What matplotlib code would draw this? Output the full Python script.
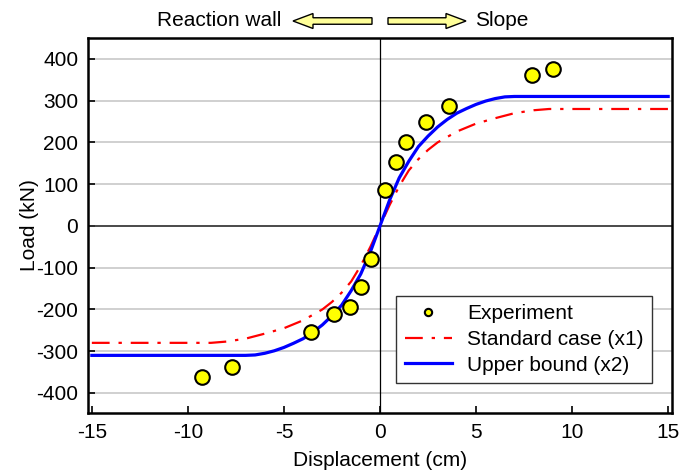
import matplotlib
matplotlib.use("Agg")
import matplotlib.pyplot as plt
from matplotlib.patches import FancyArrow

plt.rcParams["font.family"] = ["Liberation Sans", "DejaVu Sans"]
plt.rcParams["axes.unicode_minus"] = False

# Experiment points (cm, kN)
exp_x = [-9.24, -7.68, -3.58, -2.39, -1.56, -0.99, -0.47, 0.26, 0.81, 1.37, 2.42, 3.58, 7.89, 9.03]
exp_y = [-362, -338, -254, -211, -194, -146, -79, 86, 152, 200, 248, 287, 362, 375]

# Standard case (x1)
std_x = [-15, -8.8, -8, -7, -6, -5, -4, -3.5, -3, -2.5, -2, -1.5, -1, -0.5, 0,
         0.5, 1, 1.5, 2, 2.5, 3, 3.5, 4, 5, 6, 7, 8, 8.8, 15]
std_y = [-280, -280, -277, -270, -258, -245, -226, -213, -200, -182, -160, -133, -95, -50, 0,
         50, 95, 133, 160, 182, 200, 213, 226, 245, 258, 270, 277, 280, 280]

# Upper bound (x2)
up_x = [-15, -7, -6.5, -6, -5.5, -5, -4.5, -4, -3.5, -3, -2.5, -2, -1.5, -1, -0.5, 0,
        0.5, 1, 1.5, 2, 2.5, 3, 3.5, 4, 4.5, 5, 5.5, 6, 6.5, 7, 15]
up_y = [-310, -310, -309, -305, -299, -291, -281, -270, -255, -237, -215, -190, -155, -115, -62, 0,
        62, 115, 155, 190, 215, 237, 255, 270, 281, 291, 299, 305, 309, 310, 310]

fig = plt.figure(figsize=(6.8, 4.7), dpi=100)
ax = fig.add_axes([88 / 680, 1 - 413 / 470, 584 / 680, 375 / 470])

ax.set_xlim(-15.2, 15.2)
ax.set_ylim(-448, 450)
ax.set_yticks(range(-400, 401, 100))
ax.set_xticks(range(-15, 16, 5))
ax.yaxis.grid(True, color="#c8c8c8", linewidth=1.2)
ax.set_axisbelow(True)
ax.axhline(0, color="#333333", linewidth=1.2, zorder=1)
ax.axvline(0, color="black", linewidth=0.9, zorder=1)

ax.plot(std_x, std_y, color="red", linewidth=1.6, dashes=(8, 4, 1.5, 4), label="Standard case (x1)", zorder=2)
ax.plot(up_x, up_y, color="blue", linewidth=2.3, label="Upper bound (x2)", zorder=3)
ax.plot(exp_x, exp_y, linestyle="none", marker="o", markersize=10.5, markerfacecolor="yellow",
        markeredgecolor="black", markeredgewidth=1.5, label="Experiment", zorder=4)

for s in ax.spines.values():
    s.set_linewidth(1.8)
ax.tick_params(direction="in", length=5, width=1.2, labelsize=15, pad=7)
ax.set_xlabel("Displacement (cm)", fontsize=15, labelpad=7)
ax.set_ylabel("Load (kN)", fontsize=15)
ax.yaxis.set_label_coords(-0.084, 0.5)

h, l = ax.get_legend_handles_labels()
order = [2, 0, 1]
leg = ax.legend([h[i] for i in order], [l[i] for i in order], loc="lower right",
                bbox_to_anchor=(0.966, 0.08), fontsize=15, fancybox=False, framealpha=1,
                edgecolor="#333333", markerscale=0.5, handlelength=2.25, borderpad=0.4,
                labelspacing=0.32, handletextpad=0.75, borderaxespad=0)
leg.get_frame().set_linewidth(1.0)

# header annotation with arrows
fig.text(281 / 680, 1 - 20 / 470, "Reaction wall", ha="right", va="center", fontsize=15)
fig.text(475 / 680, 1 - 20 / 470, "Slope", ha="left", va="center", fontsize=15)
for x0, dx in [(372, -79), (388, 78)]:
    fig.patches.append(FancyArrow(x0 / 680, 1 - 21 / 470, dx / 680, 0, width=6.5 / 470,
                                  head_width=15 / 470, head_length=20 / 680,
                                  length_includes_head=True, facecolor="#ffff99",
                                  edgecolor="black", linewidth=1.0, transform=fig.transFigure))

fig.savefig("out.png", dpi=100)
